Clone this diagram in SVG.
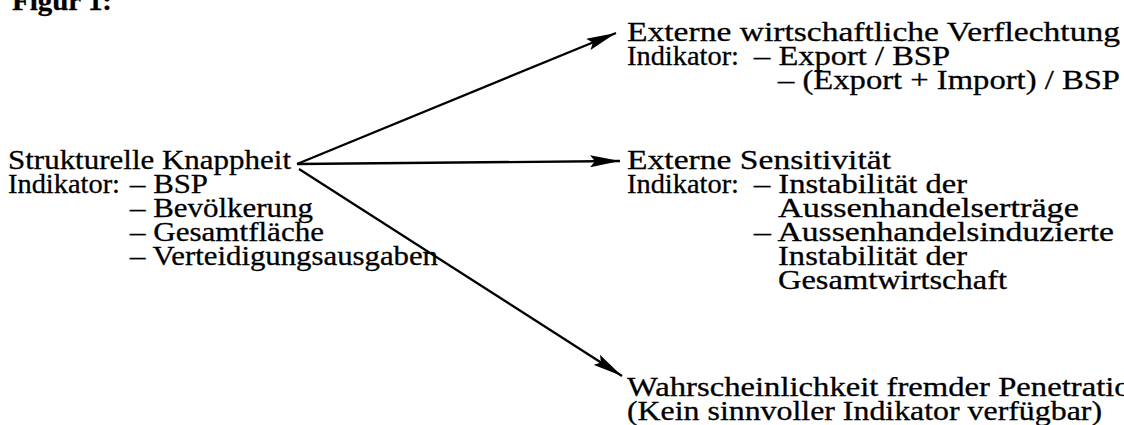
<svg xmlns="http://www.w3.org/2000/svg" width="1124" height="425" viewBox="0 0 1124 425">
<style>
text{font-family:"Liberation Serif","Times New Roman",serif;font-size:28px;fill:#000;stroke:#000;stroke-width:0.3px}
.h{font-weight:bold}
.c{stroke:#000;stroke-width:2.3;fill:none}
</style>
<defs>
<marker id="ah" viewBox="0 0 30 12" refX="30" refY="6" markerWidth="30" markerHeight="12" orient="auto" markerUnits="userSpaceOnUse">
<path d="M0,0 L30,6 L0,12 L5,6 z" fill="#000"/>
</marker>
</defs>
<rect width="1124" height="425" fill="#fff"/>
<text class="h" x="12" y="10" textLength="100" lengthAdjust="spacingAndGlyphs">Figur 1:</text>
<g id="source">
<text x="8" y="169" textLength="283" lengthAdjust="spacingAndGlyphs">Strukturelle Knappheit</text>
<text x="8" y="193" textLength="112" lengthAdjust="spacingAndGlyphs">Indikator:</text>
<text x="130" y="193" textLength="78" lengthAdjust="spacingAndGlyphs">– BSP</text>
<text x="130" y="217" textLength="183" lengthAdjust="spacingAndGlyphs">– Bevölkerung</text>
<text x="130" y="241" textLength="194" lengthAdjust="spacingAndGlyphs">– Gesamtfläche</text>
<text x="130" y="265" textLength="308" lengthAdjust="spacingAndGlyphs">– Verteidigungsausgaben</text>
</g>
<g id="verflechtung">
<text x="627" y="41" textLength="493" lengthAdjust="spacingAndGlyphs">Externe wirtschaftliche Verflechtung</text>
<text x="627" y="65" textLength="112" lengthAdjust="spacingAndGlyphs">Indikator:</text>
<text x="754" y="65" textLength="196" lengthAdjust="spacingAndGlyphs">– Export / BSP</text>
<text x="778" y="89" textLength="342" lengthAdjust="spacingAndGlyphs">– (Export + Import) / BSP</text>
</g>
<g id="sensitivitaet">
<text x="627" y="169" textLength="264" lengthAdjust="spacingAndGlyphs">Externe Sensitivität</text>
<text x="627" y="193" textLength="112" lengthAdjust="spacingAndGlyphs">Indikator:</text>
<text x="754" y="193" textLength="213" lengthAdjust="spacingAndGlyphs">– Instabilität der</text>
<text x="778" y="217" textLength="301" lengthAdjust="spacingAndGlyphs">Aussenhandelserträge</text>
<text x="754" y="241" textLength="360" lengthAdjust="spacingAndGlyphs">– Aussenhandelsinduzierte</text>
<text x="778" y="265" textLength="189" lengthAdjust="spacingAndGlyphs">Instabilität der</text>
<text x="778" y="289" textLength="229" lengthAdjust="spacingAndGlyphs">Gesamtwirtschaft</text>
</g>
<g id="penetration">
<text x="627" y="396" textLength="520" lengthAdjust="spacingAndGlyphs">Wahrscheinlichkeit fremder Penetration</text>
<text x="627" y="420" textLength="475" lengthAdjust="spacingAndGlyphs">(Kein sinnvoller Indikator verfügbar)</text>
</g>
<g id="connectors">
<line class="c" x1="297" y1="164" x2="616" y2="33" marker-end="url(#ah)"/>
<line class="c" x1="297" y1="164" x2="620" y2="161" marker-end="url(#ah)"/>
<line class="c" x1="299" y1="169" x2="622" y2="376" marker-end="url(#ah)"/>
</g>
</svg>
